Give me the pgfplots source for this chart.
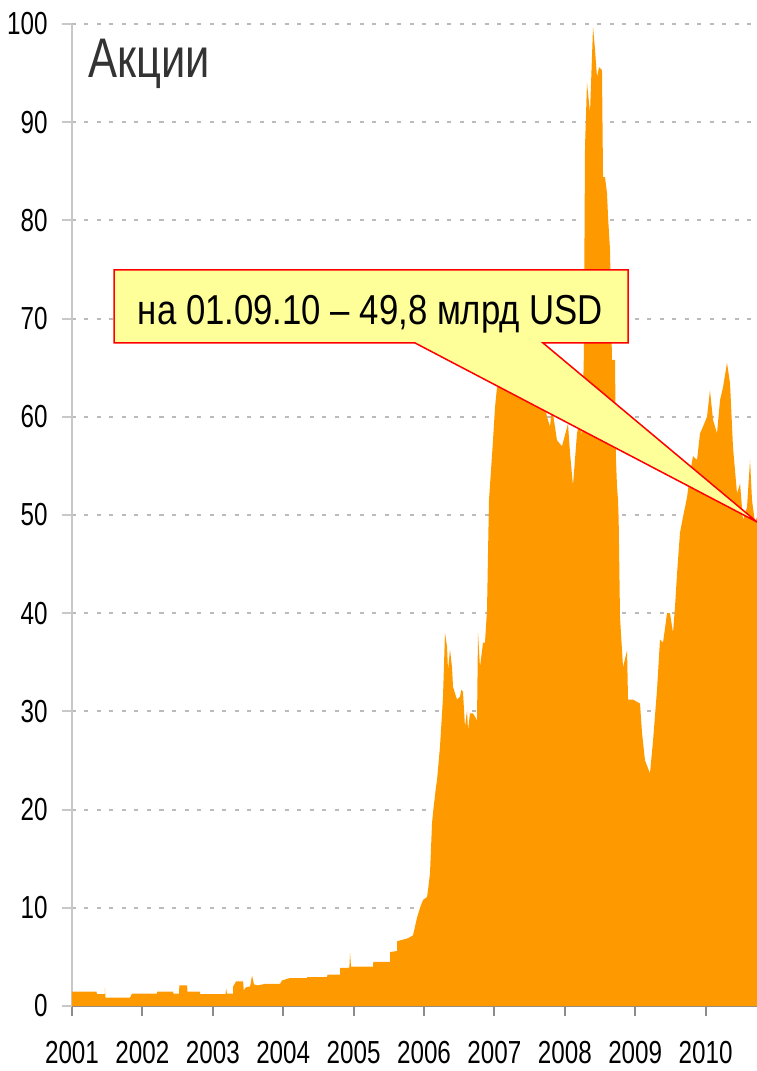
\documentclass[border=0pt]{standalone}
\usepackage{fontspec}
\setmainfont{Liberation Sans}[FakeStretch=0.76]
\newfontfamily\callfont{Liberation Sans}[FakeStretch=0.83]
\newfontfamily\titlefont{Liberation Sans}[FakeStretch=0.78]
\usepackage{pgfplots}
\pgfplotsset{compat=1.18}
\definecolor{areaorange}{HTML}{FF9900}
\definecolor{callyellow}{HTML}{FFFF99}
\definecolor{gridgray}{HTML}{BBBBBB}
\definecolor{yaxgray}{HTML}{C8C8C8}
\definecolor{xaxgray}{HTML}{8C8C8C}
\definecolor{titlegray}{HTML}{333333}
\begin{document}
\begin{tikzpicture}
\begin{axis}[name=ax, scale only axis, width=685bp, height=982bp,
  xmin=2001, xmax=2010.73, ymin=0, ymax=100, clip=false,
  axis x line*=bottom, axis y line*=left,
  x axis line style={-, draw=xaxgray, line width=2.5bp},
  y axis line style={-, draw=yaxgray, line width=2bp},
  xtick={2001,2002,2003,2004,2005,2006,2007,2008,2009,2010},
  xticklabels={2001,2002,2003,2004,2005,2006,2007,2008,2009,2010},
  ytick={0,10,20,30,40,50,60,70,80,90,100},
  yticklabels={0,10,20,30,40,50,60,70,80,90,100},
  tick align=outside, major tick length=10bp,
  x tick style={draw=xaxgray, line width=2bp},
  y tick style={draw=yaxgray, line width=2bp},
  ymajorgrids, grid style={dash pattern=on 4bp off 8.5bp, line width=2bp, draw=gridgray},
  xticklabel style={font=\fontsize{32}{36}\selectfont, inner ysep=1bp, yshift=-24bp},
  yticklabel style={font=\fontsize{32}{36}\selectfont, xshift=-11bp},
]
\addplot[draw=none, fill=areaorange] coordinates {
(2001.000,1.46) (2001.351,1.46) (2001.352,1.2) (2001.465,1.2) (2001.469,1.9) (2001.475,0.85)
(2001.824,0.85) (2001.852,1.25) (2002.207,1.25) (2002.21,1.46) (2002.435,1.46) (2002.44,1.25)
(2002.52,1.25) (2002.525,2.1) (2002.634,2.1) (2002.64,1.46) (2002.818,1.46) (2002.82,1.2)
(2003.18,1.2) (2003.19,1.8) (2003.20,1.25) (2003.287,1.25) (2003.29,2.0) (2003.33,2.5)
(2003.36,2.5) (2003.43,2.5) (2003.44,1.6) (2003.47,1.9) (2003.53,2.0) (2003.557,3.1)
(2003.585,2.2) (2003.64,2.1) (2003.741,2.25) (2003.955,2.25) (2003.983,2.6) (2004.097,2.85)
(2004.338,2.85) (2004.34,2.95) (2004.622,2.95) (2004.63,3.2) (2004.807,3.2) (2004.81,3.87)
(2004.94,3.9) (2004.949,5.4) (2004.963,4.0) (2005.276,4.0) (2005.28,4.5) (2005.517,4.5)
(2005.52,5.5) (2005.617,5.6) (2005.62,6.6) (2005.773,6.9) (2005.844,7.2) (2005.901,9.0)
(2005.943,10.0) (2005.986,10.8) (2006.043,11.1) (2006.06,12.0) (2006.085,13.5) (2006.114,18.6)
(2006.128,19.7) (2006.170,22.3) (2006.185,23.0) (2006.227,26.4) (2006.256,29.8) (2006.270,31.5)
(2006.298,38.0) (2006.327,36.6) (2006.341,34.2) (2006.369,36.3) (2006.398,34.5) (2006.412,32.5)
(2006.469,31.2) (2006.511,31.5) (2006.53,32.2) (2006.554,32.0) (2006.582,28.4) (2006.611,30.1)
(2006.625,28.1) (2006.653,29.8) (2006.696,29.8) (2006.753,29.1) (2006.767,38.0) (2006.795,34.5)
(2006.838,37.0) (2006.866,37.0) (2006.895,40.3) (2006.909,46) (2006.923,51.5) (2006.952,54.6)
(2006.980,57.6) (2007.009,61.0) (2007.051,64.0) (2007.122,65.5) (2007.222,64.5) (2007.30,66.0)
(2007.364,63.5) (2007.45,65.0) (2007.506,63.0) (2007.60,63.5) (2007.676,62.7) (2007.690,62.0)
(2007.747,60.0) (2007.790,59.0) (2007.818,61.0) (2007.889,57.6) (2007.960,57.0) (2008.045,59.3)
(2008.074,56.3) (2008.116,53.0) (2008.173,58.3) (2008.216,60.0) (2008.244,58.0) (2008.27,66.0)
(2008.287,87.5) (2008.315,94.0) (2008.358,91.0) (2008.401,99.7) (2008.429,97.4) (2008.457,94.6)
(2008.486,95.6) (2008.528,95.3) (2008.543,84.4) (2008.571,84.4) (2008.599,82.8) (2008.614,80.4)
(2008.642,77.0) (2008.670,65.8) (2008.713,65.8) (2008.727,55.6) (2008.741,53) (2008.756,51.5)
(2008.765,49.5) (2008.784,39.6) (2008.827,34.5) (2008.884,36.2) (2008.898,31.2) (2008.969,31.2)
(2009.068,30.8) (2009.097,27.8) (2009.139,25.0) (2009.210,23.7) (2009.253,27.0) (2009.310,32.2)
(2009.352,37.3) (2009.395,37.0) (2009.452,40.0) (2009.494,40.0) (2009.537,38.0) (2009.565,40.6)
(2009.594,44.0) (2009.636,48.2) (2009.679,49.8) (2009.736,51.8) (2009.778,54.2) (2009.821,56.0)
(2009.878,55.6) (2009.920,58.3) (2009.963,59.0) (2010.020,60.0) (2010.062,62.7) (2010.105,59.7)
(2010.162,58.3) (2010.205,61.7) (2010.247,63.0) (2010.304,65.5) (2010.347,63.4) (2010.389,56.9)
(2010.446,52.2) (2010.489,53.2) (2010.531,49.5) (2010.588,50.8) (2010.631,55.6) (2010.659,51.5)
(2010.702,49.2) (2010.730,49.8)
} \closedcycle;
\node[anchor=base west, text=titlegray, font=\titlefont\fontsize{56}{60}\selectfont, inner sep=0pt]
  at (axis cs:2001.23,94.6) {Акции};
\draw[draw=red, fill=callyellow, line width=1.5bp, line join=miter]
  (axis cs:2001.597,74.95) -- (axis cs:2008.898,74.95) -- (axis cs:2008.898,67.52)
  -- (axis cs:2007.69,67.52) -- (axis cs:2010.73,49.29) -- (axis cs:2005.872,67.52)
  -- (axis cs:2001.597,67.52) -- cycle;
\node[anchor=base, font=\callfont\fontsize{42}{46}\selectfont, inner sep=0pt]
  at (axis cs:2005.24,69.35) {на 01.09.10 – 49,8 млрд USD};
\end{axis}
\pgfresetboundingbox
\path[use as bounding box] ([xshift=-72bp,yshift=-65bp]ax.south west) rectangle ([yshift=24bp]ax.north east);
\end{tikzpicture}
\end{document}
